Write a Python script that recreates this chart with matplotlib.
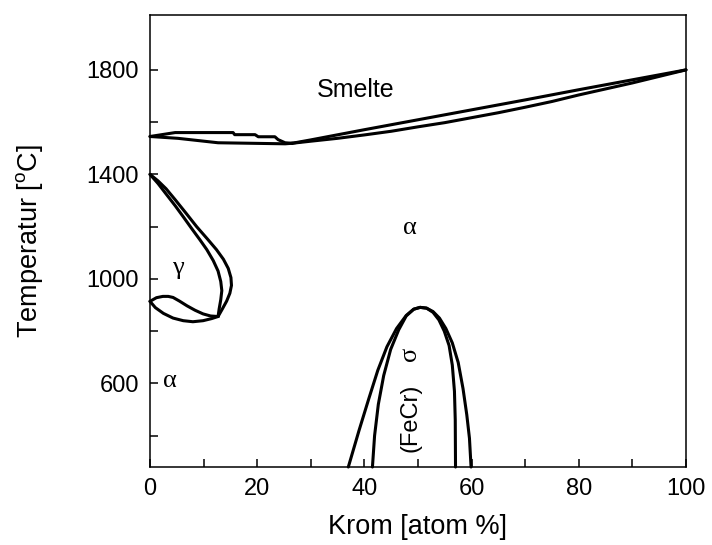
import matplotlib
matplotlib.use('Agg')
import matplotlib.pyplot as plt
from matplotlib.ticker import MultipleLocator

plt.rcParams['font.family'] = ['Liberation Sans', 'DejaVu Sans']
plt.rcParams['mathtext.fontset'] = 'custom'
plt.rcParams['mathtext.rm'] = 'Liberation Sans'

# ── Liquidus / solidus (Cr at.%, T in °C) ────────────────────────────────────
liq_left_x = [0, 4.7, 15.5, 15.8, 19.6, 20.2, 23.3, 23.9, 25.2, 26.5]
liq_left_t = [1545, 1560, 1560, 1552, 1552, 1544, 1544, 1533, 1521, 1519]
sol_left_x = [0, 5.2, 12.7, 25.2, 26.5]
sol_left_t = [1545, 1538, 1521, 1517, 1519]

liq_right_x = [26.5, 30, 40, 50, 60, 70, 80, 90, 100]
liq_right_t = [1519, 1532, 1571, 1609, 1647, 1685, 1724, 1762, 1800]
sol_right_x = [26.5, 30, 35, 40, 45, 50, 55, 60, 65, 70, 75, 80, 85, 90, 95, 100]
sol_right_t = [1519, 1527, 1538, 1551, 1565, 1582, 1598, 1617, 1636, 1657,
               1679, 1704, 1727, 1750, 1775, 1800]

# ── Gamma loop ───────────────────────────────────────────────────────────────
gam_out_x = [0, 1.5, 3.0, 4.7, 6.7, 8.7, 10.7, 12.4, 13.7, 14.6, 15.1, 15.2,
             14.9, 14.3, 13.5, 12.7]
gam_out_t = [1400, 1375, 1345, 1303, 1252, 1200, 1153, 1112, 1075, 1040, 1005,
             975, 945, 915, 885, 856]
gam_in_x = [0, 1.5, 3.0, 4.7, 6.3, 7.8, 9.3, 10.6, 11.8, 12.7, 13.2, 13.4,
            13.2, 12.9, 12.7]
gam_in_t = [1400, 1365, 1325, 1280, 1235, 1192, 1150, 1112, 1070, 1030, 990,
            955, 920, 885, 856]
gam_low_up_x = [0, 1.2, 2.4, 3.4, 4.3, 5.5, 6.9, 8.4, 9.9, 11.3, 12.7]
gam_low_up_t = [914, 928, 933, 933, 929, 915, 897, 880, 866, 858, 856]
gam_low_dn_x = [0, 1.0, 2.5, 4.3, 6.2, 8.0, 9.9, 11.5, 12.7]
gam_low_dn_t = [914, 890, 868, 850, 840, 836, 840, 848, 856]

# ── Sigma dome ───────────────────────────────────────────────────────────────
sig_out_x = [37.0, 39.0, 40.8, 42.5, 44.2, 46.0, 47.8, 49.2, 50.4, 51.6,
             52.8, 54.0, 55.2, 56.4, 57.5, 58.4, 59.1, 59.6, 59.9]
sig_out_t = [280, 420, 540, 650, 740, 810, 860, 884, 891, 888,
             875, 850, 810, 755, 680, 580, 480, 390, 280]
sig_in_x = [41.5, 41.9, 42.6, 43.6, 44.9, 46.4, 47.8, 49.2, 50.4, 51.6,
            52.8, 53.9, 54.9, 55.8, 56.4, 56.8, 56.95, 57.0]
sig_in_t = [280, 400, 520, 630, 730, 805, 858, 884, 891, 888,
            872, 843, 800, 745, 670, 570, 460, 280]

LW = 2.2

fig = plt.figure(figsize=(7.12, 5.45), dpi=100)
ax = fig.add_axes([150/712, 78/545, 536/712, 452/545])

for xs, ts in [(liq_left_x, liq_left_t), (sol_left_x, sol_left_t),
               (liq_right_x, liq_right_t), (sol_right_x, sol_right_t),
               (gam_out_x, gam_out_t), (gam_in_x, gam_in_t),
               (gam_low_up_x, gam_low_up_t), (gam_low_dn_x, gam_low_dn_t),
               (sig_out_x, sig_out_t), (sig_in_x, sig_in_t)]:
    ax.plot(xs, ts, color='black', linewidth=LW, solid_joinstyle='round',
            solid_capstyle='round', clip_on=False)

ax.set_xlim(0, 100)
ax.set_ylim(280, 2010)
ax.xaxis.set_major_locator(MultipleLocator(20))
ax.xaxis.set_minor_locator(MultipleLocator(10))
ax.set_yticks([600, 1000, 1400, 1800])
ax.set_yticks([400, 800, 1200, 1600], minor=True)
ax.tick_params(which='both', direction='in', length=6, width=1.1,
               top=False, right=False, labelsize=17, pad=8)
for sp in ax.spines.values():
    sp.set_linewidth(1.1)

ax.set_xlabel('Krom [atom %]', fontsize=19.5, labelpad=10)
ax.set_ylabel(r'Temperatur [$^{\mathrm{o}}$C]', fontsize=19.5, labelpad=30)

ax.text(38.3, 1724, 'Smelte', fontsize=18, ha='center', va='center')
greek = ['Liberation Serif', 'DejaVu Serif']
ax.text(48.5, 1196, 'α', fontsize=19, ha='center', va='center', family=greek)
ax.text(5.2, 1040, 'γ', fontsize=19, ha='center', va='center', family=greek)
ax.text(3.7, 608, 'α', fontsize=19, ha='center', va='center', family=greek)
ax.text(48.6, 470, '(FeCr)', fontsize=17, ha='center', va='center', rotation=90)
ax.text(48.6, 712, 'σ', fontsize=19, ha='center', va='center', rotation=90,
        family=greek)

fig.savefig('out.png', dpi=100)
